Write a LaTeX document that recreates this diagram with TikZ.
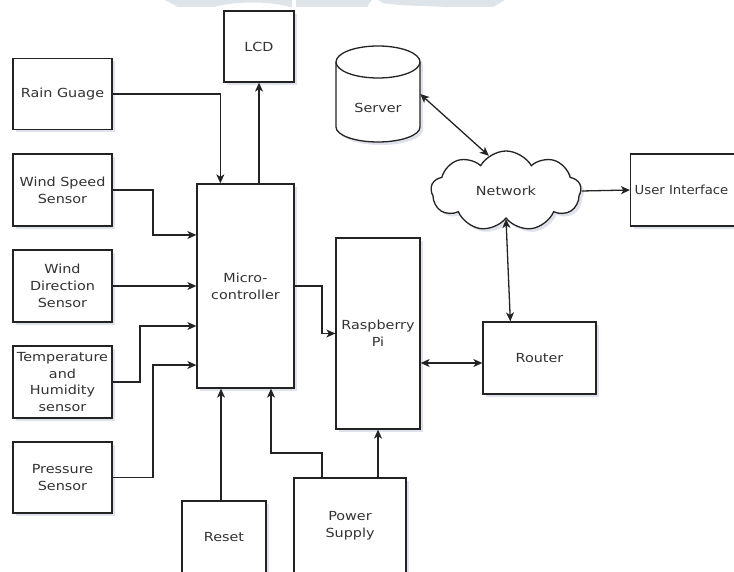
\documentclass[tikz,border=0pt]{standalone}
\usepackage{fontspec}
\newfontfamily\dfont{DejaVu Sans}[FakeStretch=1.15]
\newfontfamily\dfontb{DejaVu Sans}[FakeStretch=1.06]
\usetikzlibrary{shapes.symbols,shadows,arrows.meta,calc}
\definecolor{ln}{RGB}{35,35,35}
\definecolor{tx}{RGB}{50,50,50}
\definecolor{wm}{RGB}{222,228,231}
\definecolor{sh}{RGB}{150,155,190}
\begin{document}
\begin{tikzpicture}[x=1pt,y=-1pt,
  every node/.style={font=\dfont\fontsize{12.5}{16.7}\selectfont, text=tx},
  shd/.style={drop shadow={shadow xshift=3pt, shadow yshift=-3pt, opacity=0.3, fill=sh}},
  blk/.style={draw=ln, line width=1.3pt, fill=white, shd, align=center, inner sep=0pt},
  tip/.tip={Stealth[length=9pt,width=8pt,inset=2.5pt]},
  arr/.style={draw=ln, line width=1.3pt, -tip},
  darr/.style={draw=ln, line width=1.3pt, tip-tip}]
\useasboundingbox (0,0) rectangle (734,572);
\clip (0,0) rectangle (734,572);
% watermark
\fill[wm] (165,0) -- (292,0) -- (292,7) -- (290,7) .. controls (270,1) and (235,1) .. (214,7) -- (178,7) -- cycle;
\fill[wm] (296,0) -- (372,0) .. controls (369,3) and (368,5) .. (368,7) -- (296,7) -- cycle;
\fill[wm] (378,0) -- (505,0) -- (493,7) -- (450,7) .. controls (420,6) and (390,5) .. (383,3) -- cycle;
% boxes
\node[blk, minimum width=70, minimum height=71] (lcd) at (259,46.5) {LCD};
\node[blk, minimum width=99, minimum height=71] (rain) at (62.5,94) {Rain Guage};
\node[blk, minimum width=99, minimum height=72] (ws) at (62.5,190) {Wind Speed\\Sensor};
\node[blk, minimum width=99, minimum height=72] (wd) at (62.5,286) {Wind\\Direction\\Sensor};
\node[blk, minimum width=99, minimum height=72] (temp) at (62.5,382) {Temperature\\and\\Humidity\\sensor};
\node[blk, minimum width=99, minimum height=71] (pres) at (62.5,477.5) {Pressure\\Sensor};
\node[blk, minimum width=97, minimum height=204] (micro) at (245.5,286) {Micro-\\controller};
\node[blk, minimum width=84, minimum height=191] (rasp) at (378,333.5) {Raspberry\\Pi};
\node[blk, minimum width=113, minimum height=72] (router) at (539.5,358) {Router};
\node[blk, minimum width=84, minimum height=72] (reset) at (224,537) {Reset};
\node[blk, minimum width=112, minimum height=95] (pow) at (350,525.5) {Power\\Supply};
\node[blk, anchor=west, minimum height=72, text width=120, align=left, inner xsep=4pt, font=\dfontb\fontsize{12.5}{16.7}\selectfont] (ui) at (630,190) {User Interface};
% server cylinder
\fill[sh, opacity=0.3] (339,65) arc[start angle=180,end angle=360,x radius=42,y radius=16] -- (423,130) arc[start angle=0,end angle=180,x radius=42,y radius=15] -- cycle;
\filldraw[draw=ln, fill=white, line width=1.3pt] (336,62) arc[start angle=180,end angle=360,x radius=42,y radius=16] -- (420,127) arc[start angle=0,end angle=180,x radius=42,y radius=15] -- cycle;
\draw[ln, line width=1.3pt] (336,62) arc[start angle=180,end angle=0,x radius=42,y radius=16];
\node[minimum width=84, minimum height=96, inner sep=0pt] (srv) at (378,94) {};
\node (srvt) at (378,108) {Server};
% cloud
\node[cloud, cloud puffs=9, cloud puff arc=120, aspect=1.9, draw=ln, line width=1.3pt, fill=white, shd, minimum width=150, minimum height=80, inner sep=0pt] (net) at (506,191) {Network};
% connectors
\draw[arr] (rain.east) -| ($(micro.north west)+(24,0)$);
\draw[arr] (lcd.south |- micro.north) -- (lcd.south);
\coordinate (ws1) at (153,235);
\draw[arr] (ws.east) -| (ws1) -- (ws1 -| micro.west);
\draw[arr] (wd.east) -- (wd.east -| micro.west);
\coordinate (t1) at (140,326);
\draw[arr] (temp.east) -| (t1) -- (t1 -| micro.west);
\coordinate (p1) at (153,365);
\draw[arr] (pres.east) -| (p1) -- (p1 -| micro.west);
\coordinate (m1) at (322,333.5);
\draw[arr] (micro.east) -| (m1) -- (rasp.west);
\coordinate (rs1) at (221,500);
\draw[arr] (rs1 |- reset.north) -- (rs1 |- micro.south);
\coordinate (q1) at (322,453);
\coordinate (q2) at (271,453);
\draw[arr] (q1 |- pow.north) -- (q1) -- (q2) -- (q2 |- micro.south);
\draw[arr] (rasp.south |- pow.north) -- (rasp.south);
\coordinate (r1) at (450,363);
\draw[darr] (r1 -| rasp.east) -- (r1 -| router.west);
\draw[darr] (net.south) -- ($(router.north west)+(28,0)$);
\draw[darr] (srv.east) -- (net.116);
\draw[arr] (net.east) -- (ui.west);
\end{tikzpicture}
\end{document}
